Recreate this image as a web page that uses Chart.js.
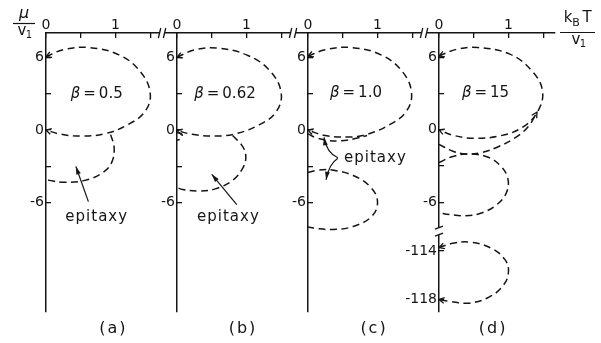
<!DOCTYPE html>
<html>
<head>
<meta charset="utf-8">
<title>Phase boundaries in the (k_BT/v1, μ/v1) plane</title>
<script src="https://cdn.jsdelivr.net/npm/chart.js@4/dist/chart.umd.min.js"></script>
<style>
  html, body { margin: 0; padding: 0; background: #fff; }
  #fig { position: relative; width: 601px; height: 343px; overflow: hidden; background: #fff; }
  #fig canvas { position: absolute; top: 0; }
</style>
</head>
<body>
<div id="fig"></div>
<script>
// ---- axis ticks ----
const kTTicks = [0, 0.5, 1, 1.5];
const kTTickLabels = ['0', '', '1', ''];
const muTicks = [6, 3, 0, -3, -6];
const muTickLabels = ['6', '', '0', '', '-6'];
const muDeepTicks = [-114, -118];
const muDeepTickLabels = ['-114', '-118'];

// ---- captions ----
const betaValues = ['0.5', '0.62', '1.0', '15'];
const panelNames = ['(a)', '(b)', '(c)', '(d)'];
const regionWord = 'epitaxy';

// ---- boundary curves (k_B T / v1 , μ / v1) ----
// (a) β = 0.5
const aLoopKT = [0, 0.25, 0.62, 1.05, 1.36, 1.5, 1.42, 1.18, 0.85, 0.5, 0.2, 0];
const aLoopMu = [6.05, 6.62, 6.8, 6.2, 4.8, 3.0, 1.5, 0.45, -0.3, -0.5, -0.33, 0];
const aEpiKT = [0.93, 0.98, 0.95, 0.82, 0.56, 0.26, 0.05, 0];
const aEpiMu = [-0.38, -1.4, -2.6, -3.5, -4.15, -4.3, -4.15, -4.05];

// (b) β = 0.62
const bLoopKT = [0, 0.25, 0.58, 1.02, 1.35, 1.5, 1.42, 1.17, 0.85, 0.55, 0.22, 0];
const bLoopMu = [6.0, 6.6, 6.75, 6.15, 4.8, 3.0, 1.45, 0.4, -0.3, -0.5, -0.35, -0.05];
const bEpiKT = [0.8, 0.95, 0.99, 0.94, 0.8, 0.55, 0.3, 0.08, 0];
const bEpiMu = [-0.45, -1.4, -2.3, -3.2, -4.15, -4.85, -5.02, -4.9, -4.75];
const bHookKT = [0, 0.07, 0.06, 0];
const bHookMu = [-0.2, -0.35, -0.7, -0.85];

// (c) β = 1.0
const cLoopKT = [0, 0.25, 0.62, 1.05, 1.36, 1.49, 1.41, 1.16, 0.85, 0.57, 0.22, 0];
const cLoopMu = [6.1, 6.62, 6.8, 6.2, 4.8, 3.05, 1.5, 0.4, -0.35, -0.58, -0.42, 0];
const cEdgeKT = [0, 0.1, 0.28, 0.48, 0.68, 0.85];
const cEdgeMu = [-0.3, -0.6, -0.85, -0.88, -0.7, -0.45];
const cLowKT = [0, 0.15, 0.35, 0.65, 0.9, 1.0, 0.92, 0.65, 0.35, 0.1, 0];
const cLowMu = [-3.5, -3.3, -3.3, -3.75, -4.7, -5.9, -7.1, -7.95, -8.2, -8.1, -8.0];

// (d) β = 15
const dLoopKT = [0, 0.25, 0.56, 1.02, 1.34, 1.49, 1.42, 1.2, 0.88, 0.5, 0.2, 0];
const dLoopMu = [6.1, 6.65, 6.8, 6.25, 4.85, 3.2, 1.5, 0.2, -0.5, -0.7, -0.45, 0];
const dEdgeKT = [0, 0.18, 0.38, 0.62, 0.86, 1.1, 1.29, 1.41];
const dEdgeMu = [-1.2, -1.72, -2.0, -1.87, -1.38, -0.65, 0.3, 1.45];
const dLowKT = [0, 0.2, 0.42, 0.7, 0.88, 0.99, 0.97, 0.83, 0.6, 0.38, 0.15, 0];
const dLowMu = [-2.7, -2.2, -2.0, -2.25, -2.95, -4.0, -5.2, -6.2, -6.9, -7.1, -7.0, -6.85];
const dDeepKT = [0, 0.2, 0.44, 0.75, 0.95, 1.0, 0.93, 0.72, 0.42, 0.15, 0];
const dDeepMu = [-113.7, -113.35, -113.25, -113.75, -114.7, -115.7, -116.8, -117.8, -118.3, -118.15, -118.0];

// ---- drawing ----
const INK = '#151515';
const FONT = '"DejaVu Sans", sans-serif';
const H = 343;
const fig = document.getElementById('fig');

const zip = (xs, ys) => xs.map((x, i) => ({ x, y: ys[i] }));
const pick = (vals, labels) => v => { const i = vals.indexOf(v); return i < 0 ? '' : labels[i]; };

function toPx(chart, yId, kT, mu) {
  return [chart.scales.x.getPixelForValue(kT), chart.scales[yId].getPixelForValue(mu)];
}

function chevron(ctx, from, tip, len, spread) {
  const a = Math.atan2(tip[1] - from[1], tip[0] - from[0]);
  ctx.beginPath();
  ctx.moveTo(tip[0] - len * Math.cos(a - spread), tip[1] - len * Math.sin(a - spread));
  ctx.lineTo(tip[0], tip[1]);
  ctx.lineTo(tip[0] - len * Math.cos(a + spread), tip[1] - len * Math.sin(a + spread));
  ctx.stroke();
}

function solidHead(ctx, from, tip, len, half) {
  const a = Math.atan2(tip[1] - from[1], tip[0] - from[0]);
  const bx = tip[0] - len * Math.cos(a), by = tip[1] - len * Math.sin(a);
  ctx.beginPath();
  ctx.moveTo(tip[0], tip[1]);
  ctx.lineTo(bx + half * Math.sin(a), by - half * Math.cos(a));
  ctx.lineTo(bx - half * Math.sin(a), by + half * Math.cos(a));
  ctx.closePath();
  ctx.fill();
}

function text(ctx, str, x, y, size, opts = {}) {
  ctx.font = `${opts.italic ? 'italic ' : ''}${size}px ${FONT}`;
  ctx.letterSpacing = (opts.spacing || 0) + 'px';
  ctx.textAlign = opts.align || 'center';
  ctx.textBaseline = 'middle';
  ctx.fillText(str, x, y);
  ctx.letterSpacing = '0px';
}

function decor(p) {
  return {
    id: 'decor',
    afterDraw(chart) {
      const ctx = chart.ctx;
      const xs = chart.scales.x;
      ctx.save();
      ctx.strokeStyle = INK;
      ctx.fillStyle = INK;
      ctx.lineWidth = 1.3;

      // arrowheads where a boundary meets the μ axis
      p.curves.forEach(c => {
        (c.tips || []).forEach(end => {
          const n = c.kT.length;
          const a = end === 'start' ? 0 : n - 1;
          const b = end === 'start' ? 1 : n - 2;
          const yId = c.axis || 'y';
          chevron(ctx, toPx(chart, yId, c.kT[b], c.mu[b]), toPx(chart, yId, c.kT[a], c.mu[a]), 6, 0.5);
        });
      });

      // break on the temperature axis
      if (p.xBreak != null) {
        const bx = xs.getPixelForValue(p.xBreak), by = xs.bottom;
        ctx.fillStyle = '#fff';
        ctx.fillRect(bx - 2.5, by - 2, 5, 4);
        ctx.fillStyle = INK;
        ctx.beginPath();
        [-2.5, 2.5].forEach(d => { ctx.moveTo(bx + d - 1.2, by + 5); ctx.lineTo(bx + d + 1.2, by - 5); });
        ctx.stroke();
      }

      // break on the μ axis between the two stacked ranges
      if (p.deep) {
        const ys = chart.scales.y;
        const ax = ys.right, gy = ys.bottom;
        ctx.fillStyle = '#fff';
        ctx.fillRect(ax - 3, gy - 3, 6, 7);
        ctx.fillStyle = INK;
        ctx.beginPath();
        [gy - 3, gy + 4].forEach(y => { ctx.moveTo(ax - 4, y + 1.5); ctx.lineTo(ax + 4, y - 1.5); });
        ctx.stroke();
      }

      // pointer arrows to the epitaxy regions
      ctx.lineWidth = 1.2;
      (p.pointers || []).forEach(q => {
        const f = toPx(chart, 'y', ...q.from), t = toPx(chart, 'y', ...q.to);
        ctx.beginPath();
        ctx.moveTo(f[0], f[1]);
        let base = f;
        if (q.ctrl) {
          const c = toPx(chart, 'y', ...q.ctrl);
          ctx.quadraticCurveTo(c[0], c[1], t[0], t[1]);
          base = c;
        } else {
          ctx.lineTo(t[0], t[1]);
        }
        ctx.stroke();
        solidHead(ctx, base, t, 8, 2.4);
      });

      // β label
      const [cx, cy] = toPx(chart, 'y', ...p.betaAt);
      ctx.font = `italic 15px ${FONT}`;
      const wb = ctx.measureText('β').width;
      const rest = '\u2009=\u2009' + p.beta;
      ctx.font = `15px ${FONT}`;
      const wr = ctx.measureText(rest).width;
      const x0 = cx - (wb + wr) / 2;
      text(ctx, 'β', x0, cy, 15, { italic: true, align: 'left' });
      text(ctx, rest, x0 + wb, cy, 15, { align: 'left' });

      // region words
      (p.words || []).forEach(w => {
        const [wx, wy] = toPx(chart, 'y', ...w.at);
        text(ctx, w.text, wx, wy, 15, { spacing: 1 });
      });

      // panel name under the axis
      text(ctx, p.name, xs.getPixelForValue(p.nameAt), 329, 16, { spacing: 2 });

      // axis titles
      if (p.muTitle) {
        const ox = 24 - p.left;
        text(ctx, 'μ', ox, 14, 16, { italic: true });
        ctx.lineWidth = 1.2;
        ctx.beginPath(); ctx.moveTo(ox - 11, 23.5); ctx.lineTo(ox + 11, 23.5); ctx.stroke();
        text(ctx, 'v', ox - 2, 31, 15);
        text(ctx, '1', ox + 5, 35, 10);
      }
      if (p.kTTitle) {
        const ox = 578 - p.left;
        text(ctx, 'k', ox - 10, 18, 15);
        text(ctx, 'B', ox - 2, 23, 11);
        text(ctx, 'T', ox + 9, 18, 15);
        ctx.lineWidth = 1.2;
        ctx.beginPath(); ctx.moveTo(ox - 18, 32.5); ctx.lineTo(ox + 17, 32.5); ctx.stroke();
        text(ctx, 'v', ox - 2, 40, 15);
        text(ctx, '1', ox + 5, 44, 10);
      }
      ctx.restore();
    }
  };
}

function axisStyle(tickVals, tickLabels, pad, extra) {
  return Object.assign({
    type: 'linear',
    afterBuildTicks: s => { s.ticks = tickVals.map(v => ({ value: v })); },
    grid: { drawOnChartArea: false, drawTicks: true, tickLength: -5, color: INK, lineWidth: 1.3 },
    border: { display: true, color: INK, width: 1.5 },
    ticks: {
      callback: pick(tickVals, tickLabels),
      font: { family: 'DejaVu Sans', size: 14 },
      color: INK, padding: pad, maxRotation: 0, autoSkip: false
    }
  }, extra);
}

function makePanel(p) {
  const canvas = document.createElement('canvas');
  canvas.width = p.width;
  canvas.height = H;
  canvas.style.left = p.left + 'px';
  canvas.style.width = p.width + 'px';
  canvas.style.height = H + 'px';
  fig.appendChild(canvas);

  const scales = {
    x: axisStyle(kTTicks, kTTickLabels, 4, {
      position: 'top', min: 0, max: p.kTMax,
      afterFit: s => { s.height = 33; }
    }),
    y: axisStyle(muTicks, muTickLabels, 7, {
      position: 'left', min: p.muMin, max: 8,
      afterFit: s => { s.width = 44; }
    })
  };
  if (p.deep) {
    Object.assign(scales.y, { stack: 'mu', stackWeight: 8 - p.muMin, weight: 1 });
    scales.y2 = axisStyle(muDeepTicks, muDeepTickLabels, 7, {
      position: 'left', min: -119.03, max: -112.3,
      stack: 'mu', stackWeight: 119.03 - 112.3, weight: 0,
      afterFit: s => { s.width = 44; }
    });
  }

  return new Chart(canvas.getContext('2d'), {
    type: 'scatter',
    data: {
      datasets: p.curves.map(c => ({
        data: zip(c.kT, c.mu),
        yAxisID: c.axis || 'y',
        showLine: true,
        borderColor: INK,
        borderWidth: 1.5,
        borderDash: [7, 4.5],
        pointRadius: 0,
        tension: 0.4,
        fill: false
      }))
    },
    options: {
      responsive: false,
      devicePixelRatio: 1,
      animation: false,
      events: [],
      layout: { padding: { left: 0, top: 0, right: p.padRight || 0, bottom: 31 } },
      plugins: { legend: { display: false }, tooltip: { enabled: false } },
      scales
    },
    plugins: [decor(p)]
  });
}

const panels = [
  {
    left: 2, width: 175, kTMax: 1.885, muMin: -15, xBreak: 1.67, nameAt: 0.97,
    beta: betaValues[0], betaAt: [0.73, 3.0], name: panelNames[0], muTitle: true,
    curves: [
      { kT: aLoopKT, mu: aLoopMu, tips: ['start', 'end'] },
      { kT: aEpiKT, mu: aEpiMu }
    ],
    words: [{ text: regionWord, at: [0.73, -7.2] }],
    pointers: [{ from: [0.61, -5.9], to: [0.43, -3.0] }]
  },
  {
    left: 133, width: 175, kTMax: 1.885, muMin: -15, xBreak: 1.67, nameAt: 0.95,
    beta: betaValues[1], betaAt: [0.69, 3.0], name: panelNames[1],
    curves: [
      { kT: bLoopKT, mu: bLoopMu, tips: ['start', 'end'] },
      { kT: bEpiKT, mu: bEpiMu },
      { kT: bHookKT, mu: bHookMu }
    ],
    words: [{ text: regionWord, at: [0.74, -7.15] }],
    pointers: [{ from: [0.86, -6.15], to: [0.5, -3.65] }]
  },
  {
    left: 264, width: 175, kTMax: 1.885, muMin: -15, xBreak: 1.67, nameAt: 0.95,
    beta: betaValues[2], betaAt: [0.69, 3.05], name: panelNames[2],
    curves: [
      { kT: cLoopKT, mu: cLoopMu, tips: ['start', 'end'] },
      { kT: cEdgeKT, mu: cEdgeMu },
      { kT: cLowKT, mu: cLowMu }
    ],
    words: [{ text: regionWord, at: [0.97, -2.33] }],
    pointers: [
      { from: [0.43, -2.28], ctrl: [0.27, -1.9], to: [0.23, -0.6] },
      { from: [0.43, -2.32], ctrl: [0.3, -2.8], to: [0.26, -4.1] }
    ]
  },
  {
    left: 395, width: 206, padRight: 46, kTMax: 1.67, muMin: -8.33, xBreak: null, nameAt: 0.78,
    deep: true, kTTitle: true,
    beta: betaValues[3], betaAt: [0.67, 3.0], name: panelNames[3],
    curves: [
      { kT: dLoopKT, mu: dLoopMu, tips: ['start', 'end'] },
      { kT: dEdgeKT, mu: dEdgeMu, tips: ['end'] },
      { kT: dLowKT, mu: dLowMu },
      { kT: dDeepKT, mu: dDeepMu, axis: 'y2', tips: ['start', 'end'] }
    ]
  }
];

panels.forEach(makePanel);
</script>
</body>
</html>
